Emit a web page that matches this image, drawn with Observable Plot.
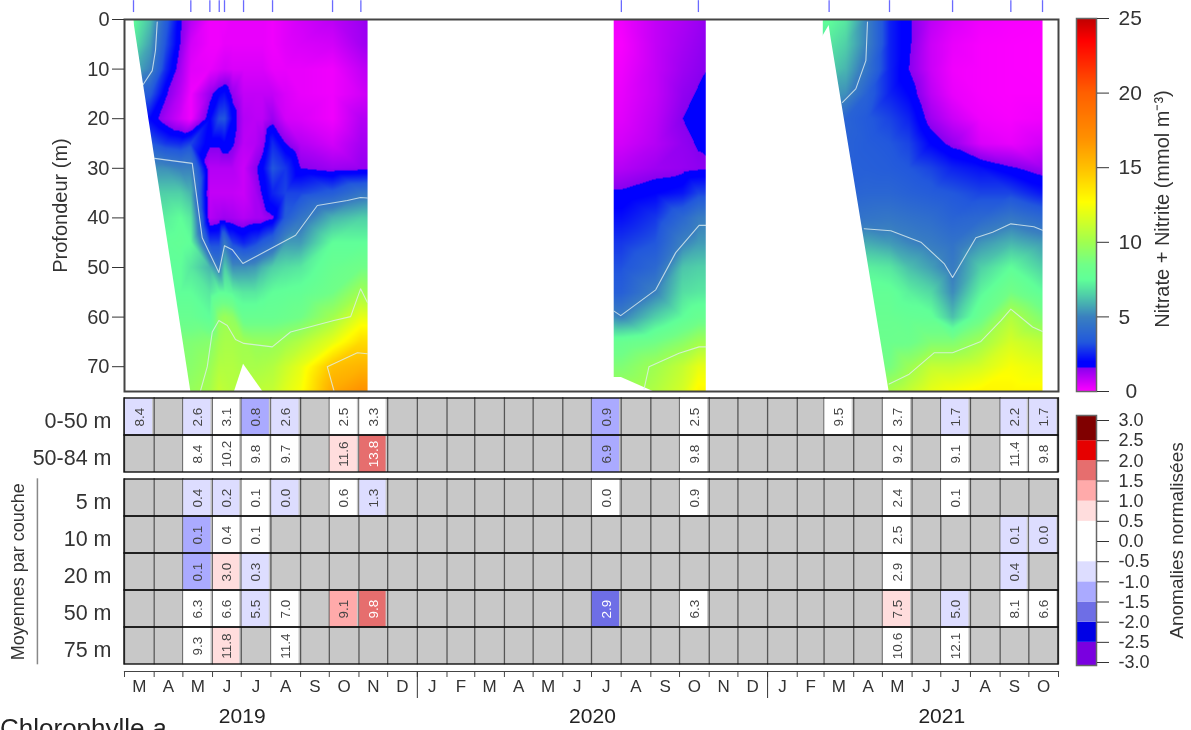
<!DOCTYPE html>
<html lang="fr">
<head>
<meta charset="utf-8">
<title>Nitrate + Nitrite</title>
<script src="https://cdn.jsdelivr.net/npm/d3@7"></script>
<script src="https://cdn.jsdelivr.net/npm/@observablehq/plot@0.6"></script>
<style>
html,body{margin:0;padding:0;background:#fff;width:1191px;height:730px;overflow:hidden}
#page{position:relative;width:1191px;height:730px;overflow:hidden;font-family:"Liberation Sans",Arial,sans-serif;color:#333;filter:blur(0.45px)}
#page>svg,#page>figure,.p{position:absolute;margin:0;background:transparent}
#chl{position:absolute;left:0;top:710px;font-size:26px;line-height:36px;color:#222;white-space:nowrap}
</style>
</head>
<body>
<div id="page"><div id="chl">Chlorophylle <i>a</i></div></div>
<script>
// ---------- Data: time is in days since 1 March 2019 ----------
const depths = [0,5,10,15,20,25,30,35,40,45,50,55,60,65,70,75];
const samplingDays = [9.4,69.3,89.2,99,104.5,124.4,154.7,217.4,247,519.2,599.7,736.3,799.4,865.3,926.2,959.3];

const block1Days = [9.4,27,43,58.5,69.3,89.2,99,104.5,113,124.4,137,144.4,154.7,168.3,184,217.4,247,254];
const block1Field = [
 [7.5,7,6,4,2.5,3,5.5,6.5,7,7.2,7.3,7.5,8,8.5,9,9],
 [6.2,5.6,5,3.4,2,3.4,5.4,6.5,7,7.4,7.4,7.5,8,8.5,9,9],
 [3.6,3.2,2.6,1.7,1.2,2.8,5.3,6.5,7.2,7.6,7.5,7.5,8,8.7,9,9.2],
 [1.7,1.55,1.2,.9,.6,2.6,5,6.5,7.5,7.7,7.5,7.5,8,9,9.3,9.5],
 [1,.6,.4,.2,.2,3,5,6,7,7.5,7,7.5,8,9,9.3,9.7],
 [.2,.2,.3,1.4,2,1.7,1,.8,1,3,6,7,7.5,9.2,9.8,10.2],
 [.2,.2,.5,2,3.2,1.7,1,.8,1.2,3,4.8,7.5,9.5,10,10.5,11],
 [.2,.3,.6,2.2,3.3,2,1,.8,1.3,4.8,6.5,7.5,9.8,10.2,10.5,10.8],
 [.3,.3,.5,1.4,2,1.7,1,.8,1.2,3,5.3,7.3,9.5,10.2,10.5,10.6],
 [.3,.3,.5,.8,1,.9,.7,.7,1,2.5,5.3,7,8,10,10.2,10.5],
 [.3,.3,.5,.8,.9,1,1.5,1.2,1.2,3,5.5,7,8,9.7,10.2,10.8],
 [.3,.3,.5,.8,.9,1.3,2,1.7,1.2,3.5,6,7.2,8,9.7,10.3,10.9],
 [.2,.2,.3,.8,1.35,2.6,3.3,2.5,1.5,4,6.5,7.5,8,9.7,10.5,11],
 [.4,.4,.3,.5,.6,1.6,2.8,3,3.5,5.5,6.8,7.6,8.2,10,11.2,11.8],
 [.6,.5,.3,.3,.5,1,1.6,3,4.5,5.5,7,7.7,8.5,10.5,12,12.5],
 [.9,.6,.2,.2,.2,.6,1.3,3.5,6,7.5,8,8.5,10,12,15,16],
 [1.3,1.2,.8,.6,1,1.2,1.4,4.5,6.5,7.5,8.5,10,12,14,15.5,17],
 [1.4,1.3,.9,.7,1,1.2,1.4,4.6,6.5,7.5,8.5,9.8,12,14,15.5,17]
];
const block2Days = [511.2,519.2,555,583.3,599.7,607.4];
const block2Field = [
 [.2,.1,.2,.3,.4,.6,1,1.7,2.2,2.8,3.2,3.6,5.2,8,9,10],
 [.2,.1,.2,.3,.4,.6,1,1.7,2.2,2.8,3.2,3.6,5,8,9,10],
 [.8,.8,.8,.8,.9,1,1.3,2,2.8,3.3,4,5,6.5,8.5,10,10.5],
 [1.1,1.2,1.3,1.45,1.6,1.45,1.4,2.3,4,5,6.3,6.8,7.5,9.3,11,11.5],
 [1.3,1.4,1.5,1.65,1.8,1.65,1.5,3,4.8,5.5,6.5,7,8,10,12,13],
 [1.4,1.5,1.58,1.75,1.9,1.7,1.5,3,4.9,5.5,6.5,7,8,10,12,13]
];
const block3Days = [729.7,736.3,753.7,775.7,799.4,819.6,842.6,865.3,894.9,926.2,959.3];
const block3Field = [
 [7.5,7,6.5,5.5,4.5,4,3.8,3.8,4,5,6.5,7.5,8,8.5,8.5,8.7],
 [7.5,7,6.5,5.5,4.5,4,3.8,3.8,4,5,6.5,7.5,8,8.5,8.5,8.7],
 [7,6.5,6,5.3,3.8,3.7,3.7,3.8,4.2,5.5,7,7.6,8,8.2,8.5,8.7],
 [5,5,4.5,3.7,3.4,3.5,3.6,3.9,4.5,5.8,7.2,7.7,8,8.2,8.5,8.7],
 [2.5,2.5,2.5,2.5,3,3.3,3.5,3.9,4.6,5.5,7,7.7,8,8.2,8.7,10.3],
 [1.7,1.7,1.6,2,2.5,3,3.3,3.7,4.4,5.1,6.2,7.2,7.8,8.3,9.8,11],
 [.9,.7,.7,.9,1.3,2,3,3.5,4.2,4.8,5.6,6.7,7.7,9,11,12],
 [.5,.3,.2,.3,.7,1.4,2.5,3.3,3.8,4.4,4.8,5.2,6.2,9,11,12.5],
 [.2,.1,.1,.1,.2,.5,2.2,3,4,5.4,6.5,7.3,8.2,10,11.5,13],
 [.1,.05,.05,.05,.1,.3,1.7,3,4.6,6,7.5,8.6,10.5,11.5,12.5,13],
 [.05,.02,.02,.05,.2,.6,1.3,2.3,4,5.5,6.5,7.5,9,10.8,12,13]
];

// White isolines [day, depth]
const iso5TopA = [[34.2,.5],[32.4,6.2],[29,10.3],[19.5,13.1]];
const iso5LowA = [[31.4,28],[70.8,29],[76,36.5],[81.2,44],[98.6,51],[104.5,45.6],[112.6,46.4],[123.7,49.2],[178.8,43.5],[201.5,37.5],[232.8,36.5],[246.7,35.9],[253.7,36]];
const iso10A = [[79.5,74.8],[86.5,70],[91.7,63],[98.6,60.7],[107.4,61.7],[116,64.5],[124.7,65.3],[154.4,66],[173.5,63],[218.8,60.7],[236.3,59.9],[246.7,54.3],[253.7,57]];
const iso15A = [[218.8,74.8],[211.9,70],[243.3,67.2],[253.7,67.4]];
const iso5B = [[511.5,58.8],[518.5,59.7],[555.1,54.5],[576,47],[600.4,41.5],[607.4,41.5]];
const iso10B = [[542.9,74.5],[548.1,70],[579.5,67.3],[600.4,66],[607.4,66]];
const iso5TopC = [[776.4,.5],[774.7,8.3],[764.2,14],[750.3,16.7]];
const iso5LowC = [[772.9,42.2],[800.8,42.6],[832.2,44.9],[856.5,49.2],[865.3,52],[889.7,44],[907.1,42.9],[926.2,41.2],[950.3,41.8],[959.3,42.5]];
const iso10C = [[799,73.5],[820,71.5],[846,67.2],[865.3,67.2],[894.9,64.9],[915.8,60.7],[926.2,58.4],[948.9,62],[959.3,62.9]];
const isolines = [iso5TopA,iso5LowA,iso10A,iso15A,iso5B,iso10B,iso5TopC,iso5LowC,iso10C];

// Areas without data [depth, from day, to day]
const noDataA = [[0,0,9.4],[75,0,69.3]];
const noDataHole = [[69.5,124.4,124.4],[75,115,144.5]];
const noDataB = [[72.2,510,519.2],[75,510,552.5]];
const noDataC = [[1.2,736.3,736.3],[4,728,738.5],[75,728,799]];
const noData = [noDataA,noDataHole,noDataB,noDataC];

const nitrateStops = [0,1.6,1.6001,2,3.3,5,6.5,7.5,8.5,10,12.7,15,17,20,23.5,25];
const nitrateColors = ["#ff00ff","#8800f0","#0000ff","#0000ff","#2258dd","#3a80c0","#50d0a8","#60ff99","#70ff88","#a0ff50","#ffff00","#ffc000","#ff9000","#ff6000","#ff0000","#c00000"];

const monthLetters = "MAMJJASONDJFMAMJJASONDJFMAMJJASO".split("");
const yearLabels = [2019,2020,2021];
const layerRows = ["0-50 m","50-84 m"];
const depthRows = ["5 m","10 m","20 m","50 m","75 m"];

// [month index, value, normalised anomaly]
const row0to50 = [[0,8.4,-.75],[2,2.6,-.75],[3,3.1,0],[4,.8,-1.25],[5,2.6,-.75],[7,2.5,0],[8,3.3,0],[16,.9,-1.25],[19,2.5,0],[24,9.5,0],[26,3.7,0],[28,1.7,-.75],[30,2.2,-.75],[31,1.7,-.75]];
const row50to84 = [[2,8.4,0],[3,10.2,0],[4,9.8,0],[5,9.7,0],[7,11.6,.75],[8,13.8,1.75],[16,6.9,-1.25],[19,9.8,0],[26,9.2,0],[28,9.1,0],[30,11.4,0],[31,9.8,0]];
const row5 = [[2,.4,-.75],[3,.2,-.75],[4,.1,0],[5,0,-.75],[7,.6,0],[8,1.3,-.75],[16,0,0],[19,.9,0],[26,2.4,0],[28,.1,0]];
const row10 = [[2,.1,-1.25],[3,.4,0],[4,.1,0],[26,2.5,0],[30,.1,-.75],[31,0,-.75]];
const row20 = [[2,.1,-1.25],[3,3,.75],[4,.3,-.75],[26,2.9,0],[30,.4,-.75]];
const row50 = [[2,6.3,0],[3,6.6,0],[4,5.5,-.75],[5,7,0],[7,9.1,1.25],[8,9.8,1.75],[16,2.9,-1.75],[19,6.3,0],[26,7.5,.75],[28,5,-.75],[30,8.1,0],[31,6.6,0]];
const row75 = [[2,9.3,0],[3,11.8,.75],[5,11.4,0],[26,10.6,0],[28,12.1,0]];

const anomalyBreaks = [-2.5,-2,-1.5,-1,-.5,.5,1,1.5,2,2.5];
const anomalyColors = ["#7a00e0","#0000e6","#6e6ee6","#aaaaff","#ddddff","#ffffff","#ffdddd","#ffaaaa","#e66e6e","#e60000","#800000"];
const anomalyTicks = [3,2.5,2,1.5,1,.5,0,-.5,-1,-1.5,-2,-2.5,-3];
const anomalyEdges = [-3.074,-2.5,-2,-1.5,-1,-.5,.5,1,1.5,2,2.5,3.124];

// ---------- Helpers ----------
const ORIGIN = Date.UTC(2019,2,1);
const day = d => new Date(ORIGIN + d*864e5);
const monthStart = i => new Date(Date.UTC(2019,2+i,1));
const FONT = "Liberation Sans, Arial, sans-serif";
const INK = "#333";
const page = document.getElementById("page");
const xDomain = [monthStart(0), monthStart(32)];

function place(svg,left,top){
  svg.classList.add("p");
  svg.style.left = left+"px"; svg.style.top = top+"px";
  svg.style.position="absolute"; svg.style.overflow="visible"; svg.style.background="transparent";
  svg.style.color = INK;
  page.appendChild(svg);
}
const common = {style:{fontFamily:FONT,background:"transparent",overflow:"visible"}};

// ---------- Depth / time section ----------
const tidy = (days,field) => days.flatMap((d,i)=>depths.map((z,j)=>({t:day(d),z,v:field[i][j]})));
const section = (days,field) => Plot.raster(tidy(days,field),{
  x:"t",y:"z",fill:"v",interpolate:"barycentric",pixelSize:1,
  x1:day(days[0]),x2:day(days[days.length-1]),y1:0,y2:75
});
const nitrateScale = {type:"linear",domain:nitrateStops,range:nitrateColors,interpolate:d3.interpolateRgb,clamp:true};

place(Plot.plot({...common,width:1060,height:400,marginLeft:124,marginRight:2,marginTop:19,marginBottom:9,
  x:{type:"time",domain:xDomain,axis:null},
  y:{domain:[0,75],reverse:true,axis:null},
  color:nitrateScale,
  marks:[
    section(block1Days,block1Field),
    section(block2Days,block2Field),
    section(block3Days,block3Field),
    ...noData.map(m=>Plot.areaX(m,{y:d=>d[0],x1:d=>day(d[1]),x2:d=>day(d[2]),fill:"white"})),
    ...isolines.map(l=>Plot.line(l,{x:d=>day(d[0]),y:d=>d[1],stroke:"#dfeeee",strokeOpacity:.8,strokeWidth:1.1})),
    Plot.ruleX(samplingDays.map(day),{y1:-3.8,y2:-1.4,stroke:"#6a6aff",strokeWidth:1.3}),
    Plot.frame({stroke:"#444",strokeWidth:2}),
    Plot.axisY({ticks:d3.range(0,71,10),tickSize:12,tickPadding:3,fontSize:20,label:null,color:INK}),
    Plot.text(["Profondeur (m)"],{frameAnchor:"left",textAnchor:"middle",rotate:-90,dx:-64,fontSize:20,fill:INK})
  ]}),0,0);

// ---------- Colour bars ----------
place(Plot.plot({...common,width:131,height:400,marginLeft:16,marginRight:95,marginTop:18,marginBottom:9,
  x:{domain:[0,1],axis:null},
  y:{domain:[0,25],axis:null},
  color:nitrateScale,
  marks:[
    Plot.raster({fill:(x,y)=>y,x1:0,x2:1,y1:0,y2:25,pixelSize:1}),
    Plot.frame({stroke:"#666",strokeWidth:1.5}),
    Plot.axisY([5,10,15,20,25],{anchor:"right",tickSize:12,tickPadding:10,fontSize:21,label:null}),
    Plot.axisY([0],{anchor:"right",tickSize:12,tickPadding:17,fontSize:21,label:null}),
    Plot.text(["Nitrate + Nitrite (mmol m⁻³)"],{frameAnchor:"right",textAnchor:"middle",rotate:-90,dx:66,dy:4,fontSize:20,fill:INK})
  ]}),1060,0);

const anomalyScale = {type:"threshold",domain:anomalyBreaks,range:anomalyColors};
place(Plot.plot({...common,width:131,height:330,marginLeft:16,marginRight:95,marginTop:15,marginBottom:65,
  x:{domain:[0,1],axis:null},
  y:{domain:[-3.074,3.124],axis:null},
  color:anomalyScale,
  marks:[
    Plot.rect(d3.pairs(anomalyEdges),{x1:0,x2:1,y1:d=>d[0],y2:d=>d[1],fill:d=>(d[0]+d[1])/2}),
    Plot.frame({stroke:"#666",strokeWidth:1.5}),
    Plot.axisY(anomalyTicks,{anchor:"right",tickSize:12,tickPadding:10,fontSize:18,label:null,tickFormat:d=>d.toFixed(1)}),
    Plot.text(["Anomalies normalisées"],{frameAnchor:"right",textAnchor:"middle",rotate:-90,dx:80,fontSize:19,fill:INK})
  ]}),1060,400);

// ---------- Monthly table ----------
const monthCells = rows => rows.flatMap(r=>monthLetters.map((_,i)=>({row:r,i,x1:monthStart(i),x2:monthStart(i+1)})));
const valueCells = (rowNames,rowData) => rowNames.flatMap((r,k)=>rowData[k].map(([i,v,a])=>({row:r,i,v,a,x1:monthStart(i),x2:monthStart(i+1),mid:new Date((+monthStart(i)+ +monthStart(i+1))/2)})));
function table(rowNames,rowData,extra=[]){
  const all = monthCells(rowNames), vals = valueCells(rowNames,rowData);
  return {
    marks:[
      Plot.barX(all,{x1:"x1",x2:"x2",y:"row",fill:"#c8c8c8"}),
      Plot.ruleX(d3.range(0,33).map(monthStart),{stroke:"#555",strokeWidth:1.3}),
      Plot.barX(vals,{x1:"x1",x2:"x2",y:"row",fill:"a",insetLeft:.8,insetRight:1.6}),
      Plot.barX(rowNames,{x1:()=>xDomain[0],x2:()=>xDomain[1],y:d=>d,fill:"none",stroke:"#111",strokeWidth:1.4}),
      Plot.text(vals,{filter:d=>Math.abs(d.a)<1.5,x:"mid",y:"row",text:d=>d.v.toFixed(1),rotate:-90,fontSize:13.5,fill:"#444"}),
      Plot.text(vals,{filter:d=>Math.abs(d.a)>=1.5,x:"mid",y:"row",text:d=>d.v.toFixed(1),rotate:-90,fontSize:13.5,fill:"#fff"}),
      Plot.axisY({tickSize:0,tickPadding:13,fontSize:21.5,dy:4.5,label:null,color:INK}),
      ...extra
    ]};
}
const rowOpts = (names) => ({domain:names,padding:0,axis:null});

place(Plot.plot({...common,width:1060,height:85,marginLeft:124,marginRight:2,marginTop:7.3,marginBottom:3,
  x:{type:"time",domain:xDomain,axis:null},
  y:rowOpts(layerRows),
  color:anomalyScale,
  ...table(layerRows,[row0to50,row50to84])}),0,390);

place(Plot.plot({...common,width:1060,height:195,marginLeft:124,marginRight:2,marginTop:3.3,marginBottom:5.7,
  x:{type:"time",domain:xDomain,axis:null},
  y:rowOpts(depthRows),
  color:anomalyScale,
  ...table(depthRows,[row5,row10,row20,row50,row75],[
    Plot.ruleX([day(-91)],{stroke:"#888",strokeWidth:1.5}),
    Plot.text(["Moyennes par couche"],{frameAnchor:"left",textAnchor:"middle",rotate:-90,dx:-106,fontSize:18,fill:INK})
  ])}),0,475);

// ---------- Month / year axis ----------
const monthMids = monthLetters.map((_,i)=>new Date((+monthStart(i)+ +monthStart(i+1))/2));
const yearStarts = [new Date(Date.UTC(2020,0,1)),new Date(Date.UTC(2021,0,1))];
const yearMids = yearLabels.map(y=>new Date(Date.UTC(y,6,2)));
place(Plot.plot({...common,width:1060,height:70,marginLeft:124,marginRight:2,marginTop:11,marginBottom:59,
  x:{type:"time",domain:xDomain,axis:null},
  marks:[
    Plot.axisX(d3.range(0,33).map(monthStart),{tickSize:6,tickFormat:()=>"",label:null,color:"#444"}),
    Plot.axisX(yearStarts,{tickSize:27,tickFormat:()=>"",label:null,color:"#333"}),
    Plot.axisX(monthMids,{tickSize:0,tickPadding:8,fontSize:17,label:null,tickFormat:(d,i)=>monthLetters[i],color:INK}),
    Plot.axisX(yearMids,{tickSize:0,tickPadding:37,fontSize:21,label:null,tickFormat:(d,i)=>String(yearLabels[i]),color:"#222"}),
    Plot.frame({anchor:"bottom",stroke:"#444",strokeWidth:1.2})
  ]}),0,660);
</script>
</body>
</html>
